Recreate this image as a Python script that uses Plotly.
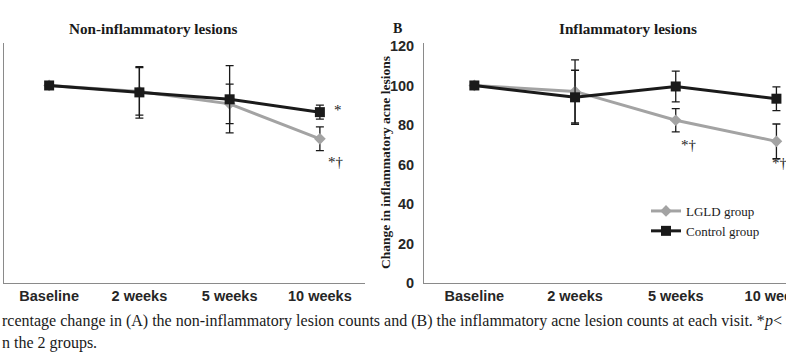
import plotly.graph_objects as go

categories = ["Baseline", "2 weeks", "5 weeks", "10 weeks"]

# Panel A: non-inflammatory lesions (% of baseline)
a_lgld = [100, 97, 90.7, 73]
a_lgld_err = [0, 12, 10, 6]
a_ctrl = [100, 96.5, 93, 86.5]
a_ctrl_err = [0, 13, 17, 3.5]

# Panel B: inflammatory lesions (% of baseline)
b_lgld = [100, 97, 82.4, 71.7]
b_lgld_err = [0, 16, 5.9, 8.8]
b_ctrl = [100, 94, 99.5, 93.3]
b_ctrl_err = [0, 13.7, 7.8, 6]

y_ticks = [0, 20, 40, 60, 80, 100, 120]

W, H = 786, 362
ML, MR, MT, MB = 0, 0, 43, 79
GRAY = "#a3a3a3"
BLACK = "#1a1a1a"
AXIS = "#8a8a8a"
TXT = "#1a1a1a"
SERIF = "Liberation Serif, Times New Roman, serif"
SANS = "Liberation Sans, Arial, sans-serif"

def px_x(x):
    return (x - ML) / (W - ML - MR)

def px_y(y):
    return 1 - (y - MT) / (H - MT - MB)

fig = go.Figure()

def add_pair(lg, lg_e, ct, ct_e, xa, ya, show):
    fig.add_trace(go.Scatter(
        x=categories, y=lg, name="LGLD group", xaxis=xa, yaxis=ya,
        mode="lines+markers", showlegend=show,
        line=dict(color=GRAY, width=3),
        marker=dict(symbol="diamond", size=9, color=GRAY),
        error_y=dict(type="data", array=lg_e, color=BLACK, thickness=1.3, width=4),
    ))
    fig.add_trace(go.Scatter(
        x=categories, y=ct, name="Control group", xaxis=xa, yaxis=ya,
        mode="lines+markers", showlegend=show,
        line=dict(color=BLACK, width=3),
        marker=dict(symbol="square", size=10, color=BLACK),
        error_y=dict(type="data", array=ct_e, color=BLACK, thickness=1.3, width=4),
    ))

add_pair(a_lgld, a_lgld_err, a_ctrl, a_ctrl_err, "x", "y", False)
add_pair(b_lgld, b_lgld_err, b_ctrl, b_ctrl_err, "x2", "y2", True)

tickfont = dict(family=SANS, size=14.5, color="#262626")
xcommon = dict(type="category", categoryorder="array", categoryarray=categories,
               tickvals=categories, ticktext=["<b>%s</b>" % c for c in categories],
               showline=True, linecolor=AXIS, linewidth=1, showgrid=False,
               zeroline=False, ticks="", tickfont=tickfont, automargin=False)
ycommon = dict(range=[0, 121.5], showline=True, linecolor=AXIS, linewidth=1,
               showgrid=False, zeroline=False, ticks="", tickvals=y_ticks,
               ticktext=["<b>%d</b>" % v for v in y_ticks], tickfont=tickfont,
               automargin=False)

fig.update_layout(
    width=W, height=H,
    margin=dict(l=ML, r=MR, t=MT, b=MB, autoexpand=False),
    paper_bgcolor="white", plot_bgcolor="white",
    xaxis=dict(domain=[px_x(4), px_x(365)], range=[-0.5, 3.5], anchor="y", **xcommon),
    yaxis=dict(domain=[0, 1], anchor="x", showticklabels=False, **ycommon),
    xaxis2=dict(domain=[px_x(424), 1], range=[-0.5, 3.095], anchor="y2", **xcommon),
    yaxis2=dict(domain=[0, 1], anchor="x2", showticklabels=True,
                ticklabelstandoff=6, **ycommon),
    legend=dict(x=px_x(646), y=px_y(196), xanchor="left", yanchor="top",
                bgcolor="rgba(0,0,0,0)", font=dict(family=SERIF, size=13, color=TXT),
                tracegroupgap=0),
    showlegend=True,
)

ann = []
def txt(text, x, y, size=13, bold=True, xanchor="center", angle=0):
    ann.append(dict(text=("<b>%s</b>" % text) if bold else text, x=px_x(x), y=px_y(y),
                    xref="paper", yref="paper", showarrow=False, xanchor=xanchor,
                    yanchor="middle", textangle=angle,
                    font=dict(family=SERIF, size=size, color=TXT)))

txt("Non-inflammatory lesions", 153, 29, size=15.2)
txt("Inflammatory lesions", 628, 29, size=15.2)
txt("B", 397, 28, size=14)
txt("Change in inflammatory acne lesions", 385, 163, size=13.5, angle=-90)

txt("rcentage change in (A) the non-inflammatory lesion counts and (B) the inflammatory acne lesion counts at each visit. *<i>p</i><",
    0, 321, size=16, bold=False, xanchor="left")
txt("n the 2 groups.", 0, 343, size=16, bold=False, xanchor="left")

# significance markers next to the points
def sig(text, xcat, yval, xs, ys, xr, yr):
    ann.append(dict(text=text, x=xcat, y=yval, xref=xr, yref=yr, showarrow=False,
                    xshift=xs, yshift=ys, font=dict(family=SERIF, size=15, color=TXT)))

sig("*", categories[3], a_ctrl[3], 18, 2, "x", "y")
sig("*†", categories[3], a_lgld[3], 16, -23, "x", "y")
sig("*†", categories[2], b_lgld[2], 13, -25, "x2", "y2")
sig("*†", categories[3], b_lgld[3], 4, -22, "x2", "y2")

fig.update_layout(annotations=ann)
fig.write_html("out.html", config={"displayModeBar": False},
               post_script="document.body.style.margin='0px';")
